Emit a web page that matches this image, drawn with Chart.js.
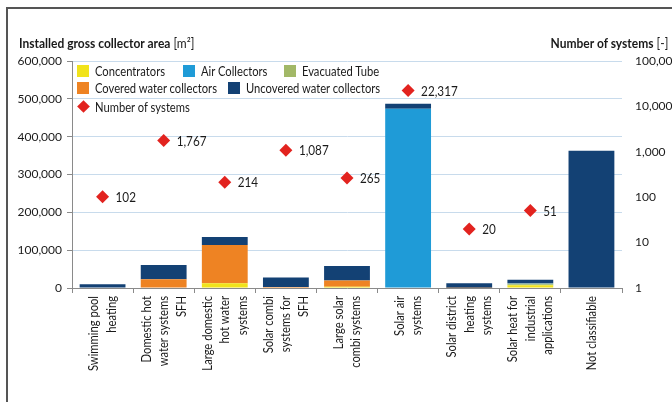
<!DOCTYPE html>
<html>
<head>
<meta charset="utf-8">
<script src="https://cdn.jsdelivr.net/npm/chart.js@4.4.1/dist/chart.umd.min.js"></script>
<style>
  body { margin: 0; background: #fff; }
  #wrap { position: relative; width: 672px; height: 402px; overflow: hidden;
          font-family: Lato, "DejaVu Sans Condensed", sans-serif; color: #1a1a1a; }
  #frame { position: absolute; left: 6px; top: 7px; right: 0; bottom: 0;
           border-left: 2px solid #555; border-top: 2px solid #555; }
  canvas { position: absolute; left: 0; top: 0; }
  .title { position: absolute; font-size: 13.5px; white-space: nowrap; }
  .title span { display: inline-block; transform: scaleX(0.89); }
  .title b { font-weight: bold; }
  .leg { position: absolute; font-size: 14px; white-space: nowrap; line-height: 14px; }
  .leg span { display: inline-block; transform: scaleX(0.8); transform-origin: left center; }
  .leg i { position: absolute; left: -18px; top: 1px; width: 12px; height: 12px; }
  .leg i.dia { width: 9px; height: 9px; left: -16px; top: 2px; transform: rotate(45deg); }
</style>
</head>
<body>
<div id="wrap">
  <div id="frame"></div>
  <canvas id="chart" width="672" height="402"></canvas>
  <div class="title" style="left:19px; top:35px;"><span style="transform-origin:left center"><b>Installed gross collector area</b> [m²]</span></div>
  <div class="title" style="right:4px; top:35px;"><span style="transform-origin:right center"><b>Number of systems</b> [-]</span></div>
  <div id="legend"></div>
</div>
<script>
const categories = [
  ['Swimming pool', 'heating'],
  ['Domestic hot', 'water systems', 'SFH'],
  ['Large domestic', 'hot water', 'systems'],
  ['Solar combi', 'systems for', 'SFH'],
  ['Large solar', 'combi systems'],
  ['Solar air', 'systems'],
  ['Solar district', 'heating', 'systems'],
  ['Solar heat for', 'industrial', 'applications'],
  ['Not classifiable']
];

// installed gross collector area [m²]
const concentrators = [0, 0, 12500, 0, 3000, 0, 0, 7000, 0];
const evacuatedTube = [0, 0, 0, 0, 0, 0, 0, 3000, 0];
const airCollectors = [0, 0, 0, 0, 0, 474000, 0, 2000, 0];
const coveredWater = [1000, 23000, 101000, 2500, 17000, 0, 500, 1500, 0];
const uncoveredWater = [9000, 38000, 21000, 25500, 38000, 13000, 12000, 8500, 363000];

// number of systems (log axis)
const numberOfSystems = [102, 1767, 214, 1087, 265, 22317, 20, 51, null];

const areaTicks = [0, 100000, 200000, 300000, 400000, 500000, 600000];
const systemTicks = [1, 10, 100, 1000, 10000, 100000];

const colors = {
  concentrators: '#f1e31b',
  air: '#1f9bd7',
  evacuated: '#a2b867',
  covered: '#ee8323',
  uncovered: '#134174',
  systems: '#e2231f'
};

const FONT = 'Lato, "DejaVu Sans Condensed", sans-serif';
const SQUEEZE = 0.8; // the original face is narrower than Lato
const fmt = v => v.toLocaleString('en-US');

// legend built by hand, sits inside the plot area
const legendItems = [
  { text: 'Concentrators', color: colors.concentrators, x: 95, y: 64 },
  { text: 'Air Collectors', color: colors.air, x: 201, y: 64 },
  { text: 'Evacuated Tube', color: colors.evacuated, x: 302, y: 64 },
  { text: 'Covered water collectors', color: colors.covered, x: 95, y: 81 },
  { text: 'Uncovered water collectors', color: colors.uncovered, x: 246, y: 81 },
  { text: 'Number of systems', color: colors.systems, x: 95, y: 100, diamond: true }
];
const legendEl = document.getElementById('legend');
legendItems.forEach(item => {
  const d = document.createElement('div');
  d.className = 'leg';
  d.style.left = item.x + 'px';
  d.style.top = item.y + 'px';
  d.innerHTML = `<i class="${item.diamond ? 'dia' : ''}" style="background:${item.color}"></i><span>${item.text}</span>`;
  legendEl.appendChild(d);
});

// rotated, centred multi-line category labels
const xLabelPlugin = {
  id: 'xLabels',
  afterDraw(chart) {
    const ctx = chart.ctx;
    const xs = chart.scales.x;
    const lh = 17.5;
    ctx.save();
    ctx.font = '14px ' + FONT;
    ctx.fillStyle = '#1a1a1a';
    ctx.textAlign = 'right';
    ctx.textBaseline = 'middle';
    categories.forEach((lines, i) => {
      const x = xs.getPixelForValue(i);
      const n = lines.length;
      lines.forEach((line, j) => {
        ctx.save();
        ctx.translate(x + (j - (n - 1) / 2) * lh, xs.top + 8);
        ctx.rotate(-Math.PI / 2);
        ctx.scale(SQUEEZE, 1);
        ctx.fillText(line, 0, 0);
        ctx.restore();
      });
    });
    ctx.restore();
  }
};

// value labels next to the diamonds
const pointLabelPlugin = {
  id: 'pointLabels',
  afterDatasetsDraw(chart) {
    const ctx = chart.ctx;
    const idx = chart.data.datasets.findIndex(d => d.type === 'line');
    const meta = chart.getDatasetMeta(idx);
    ctx.save();
    ctx.font = '13px ' + FONT;
    ctx.fillStyle = '#1a1a1a';
    ctx.textAlign = 'left';
    ctx.textBaseline = 'middle';
    meta.data.forEach((pt, i) => {
      const v = numberOfSystems[i];
      if (v == null) return;
      ctx.save();
      ctx.translate(pt.x + 13, pt.y + 1);
      ctx.scale(0.9, 1);
      ctx.fillText(fmt(v), 0, 0);
      ctx.restore();
    });
    ctx.restore();
  }
};

const barSet = (label, data, color) => ({
  type: 'bar', label, data, backgroundColor: color, borderWidth: 0,
  yAxisID: 'y', stack: 'area', barPercentage: 0.75, categoryPercentage: 1, order: 2
});

new Chart(document.getElementById('chart'), {
  data: {
    labels: categories.map(c => c.join(' ')),
    datasets: [
      {
        type: 'line', label: 'Number of systems', data: numberOfSystems, yAxisID: 'y2',
        showLine: false, pointStyle: 'rectRot', pointRadius: 6.5,
        pointBackgroundColor: colors.systems, pointBorderWidth: 0, order: 1
      },
      barSet('Concentrators', concentrators, colors.concentrators),
      barSet('Evacuated Tube', evacuatedTube, colors.evacuated),
      barSet('Air Collectors', airCollectors, colors.air),
      barSet('Covered water collectors', coveredWater, colors.covered),
      barSet('Uncovered water collectors', uncoveredWater, colors.uncovered)
    ]
  },
  options: {
    responsive: false,
    animation: false,
    events: [],
    layout: { padding: { top: 61, left: 0, right: 0, bottom: 0 } },
    plugins: { legend: { display: false }, tooltip: { enabled: false } },
    scales: {
      x: {
        stacked: true,
        offset: true,
        grid: { offset: true, drawOnChartArea: false, drawTicks: true, tickLength: 5, tickColor: '#8a8a8a' },
        border: { color: '#8a8a8a' },
        ticks: { display: false },
        afterFit: s => { s.height = 114; }
      },
      y: {
        position: 'left',
        stacked: true,
        min: 0, max: 600000,
        afterBuildTicks: s => { s.ticks = areaTicks.map(v => ({ value: v })); },
        grid: { color: '#c8dbec', tickColor: '#8a8a8a', tickLength: 5 },
        border: { color: '#8a8a8a' },
        ticks: { padding: 5, color: '#1a1a1a', font: { family: FONT, size: 12 }, callback: v => fmt(v) },
        afterFit: s => { s.width = 72; }
      },
      y2: {
        type: 'logarithmic',
        position: 'right',
        min: 1, max: 100000,
        afterBuildTicks: s => { s.ticks = systemTicks.map(v => ({ value: v })); },
        grid: { display: false },
        border: { display: false },
        ticks: { padding: 5, color: '#1a1a1a', font: { family: FONT, size: 12 }, callback: v => fmt(v) },
        afterFit: s => { s.width = 50; }
      }
    }
  },
  plugins: [xLabelPlugin, pointLabelPlugin]
});
</script>
</body>
</html>
